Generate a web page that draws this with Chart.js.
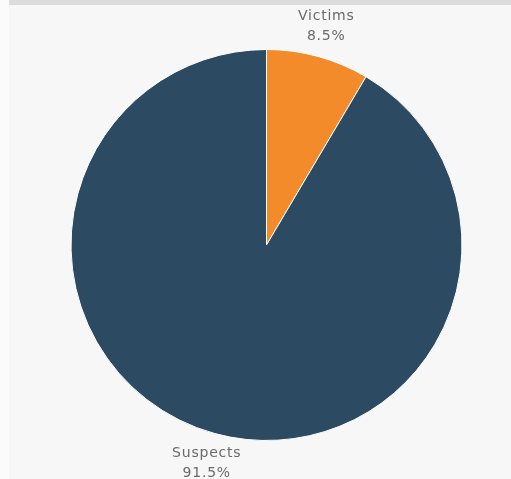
<!DOCTYPE html>
<html>
<head>
<meta charset="utf-8">
<script src="https://cdn.jsdelivr.net/npm/chart.js@4"></script>
<style>
  html, body { margin: 0; padding: 0; width: 511px; height: 479px; overflow: hidden; background: #f7f7f7; }
  #leftStrip { position: absolute; left: 0; top: 0; width: 9px; height: 479px; background: #fbfbfb; }
  #topBand { position: absolute; left: 9px; top: 0; width: 502px; height: 5px; background: #dcdcdc; }
  #wrap { position: absolute; left: 0; top: 0; width: 511px; height: 479px; }
</style>
</head>
<body>
<div id="leftStrip"></div>
<div id="topBand"></div>
<div id="wrap"><canvas id="c" width="511" height="479"></canvas></div>
<script>
const categories = ['Victims', 'Suspects'];
const shares = [8.5, 91.5];
const sliceColors = ['#f38b2a', '#2d4a63'];

const labelPlugin = {
  id: 'outerLabels',
  afterDatasetsDraw(chart) {
    const ctx = chart.ctx;
    const meta = chart.getDatasetMeta(0);
    ctx.save();
    ctx.font = '14px "DejaVu Sans", sans-serif';
    try { ctx.letterSpacing = '0.8px'; } catch (e) {}
    ctx.fillStyle = '#6a6a6a';
    ctx.textAlign = 'center';
    ctx.textBaseline = 'middle';
    meta.data.forEach((arc, i) => {
      const p = arc.getProps(['x', 'y', 'startAngle', 'endAngle', 'outerRadius'], true);
      const mid = (p.startAngle + p.endAngle) / 2;
      const r = p.outerRadius + 31;
      const cx = p.x + Math.cos(mid) * r;
      const cy = p.y + Math.sin(mid) * r;
      ctx.fillText(categories[i], cx, cy - 10);
      ctx.fillText(shares[i].toFixed(1) + '%', cx, cy + 10);
    });
    ctx.restore();
  }
};

new Chart(document.getElementById('c'), {
  type: 'pie',
  data: {
    labels: categories,
    datasets: [{
      data: shares,
      backgroundColor: sliceColors,
      borderColor: '#ffffff',
      borderWidth: 1
    }]
  },
  options: {
    responsive: false,
    animation: false,
    layout: { padding: { left: 70.5, right: 48.5, top: 49, bottom: 38 } },
    plugins: { legend: { display: false }, tooltip: { enabled: false } }
  },
  plugins: [labelPlugin]
});
</script>
</body>
</html>
